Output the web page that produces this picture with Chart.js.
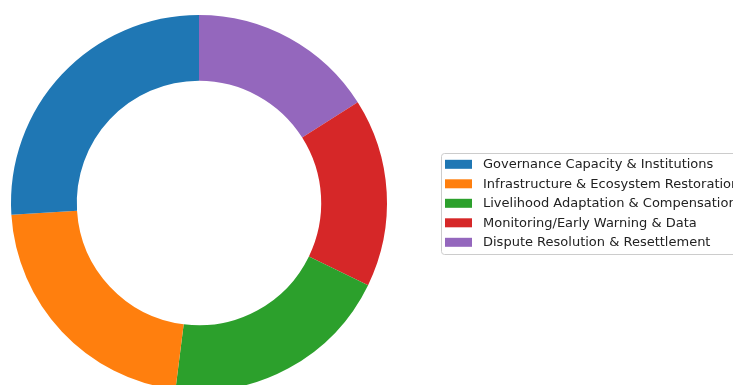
<!DOCTYPE html>
<html>
<head>
<meta charset="utf-8">
<script src="https://cdn.jsdelivr.net/npm/chart.js@4.4.1/dist/chart.umd.min.js"></script>
<style>
  html, body { margin: 0; padding: 0; background: #ffffff; overflow: hidden; width: 733px; height: 385px; }
  #wrap { position: absolute; left: 0; top: 0; }
</style>
</head>
<body>
<div id="wrap"><canvas id="c" width="733" height="406"></canvas></div>
<script>
// Funding priorities (share of total, %)
const categories = [
  "Governance Capacity & Institutions",
  "Infrastructure & Ecosystem Restoration",
  "Livelihood Adaptation & Compensation",
  "Monitoring/Early Warning & Data",
  "Dispute Resolution & Resettlement"
];
const shares = [26.0, 22.0, 19.8, 16.2, 16.0];
const colors = ["#1f77b4", "#ff7f0e", "#2ca02c", "#d62728", "#9467bd"];

// Chart.js sweeps clockwise from 12 o'clock; feeding the slices in reverse
// order lays them out counter-clockwise starting with the first category.
const arcLabels = categories.slice().reverse();
const arcValues = shares.slice().reverse();
const arcColors = colors.slice().reverse();

// Boxed legend listing the categories in their natural order.
const boxedLegend = {
  id: "boxedLegend",
  afterDraw(chart, args, opts) {
    const ctx = chart.ctx;
    ctx.save();
    // frame
    const fx = opts.x, fy = opts.y, fw = opts.width, fh = opts.height, r = 3;
    ctx.beginPath();
    ctx.moveTo(fx + r, fy);
    ctx.lineTo(fx + fw - r, fy);
    ctx.arcTo(fx + fw, fy, fx + fw, fy + r, r);
    ctx.lineTo(fx + fw, fy + fh - r);
    ctx.arcTo(fx + fw, fy + fh, fx + fw - r, fy + fh, r);
    ctx.lineTo(fx + r, fy + fh);
    ctx.arcTo(fx, fy + fh, fx, fy + fh - r, r);
    ctx.lineTo(fx, fy + r);
    ctx.arcTo(fx, fy, fx + r, fy, r);
    ctx.closePath();
    ctx.fillStyle = "rgba(255,255,255,0.8)";
    ctx.fill();
    ctx.strokeStyle = "#cccccc";
    ctx.lineWidth = 1;
    ctx.stroke();
    // entries
    ctx.font = opts.fontSize + "px 'DejaVu Sans', sans-serif";
    ctx.textBaseline = "middle";
    categories.forEach((name, i) => {
      const cy = opts.firstRowY + i * opts.rowPitch;
      ctx.fillStyle = colors[i];
      ctx.fillRect(opts.patchX, cy - opts.patchH / 2, opts.patchW, opts.patchH);
      ctx.fillStyle = "#222222";
      ctx.fillText(name, opts.textX, cy + 0.5);
    });
    ctx.restore();
  }
};

new Chart(document.getElementById("c"), {
  type: "doughnut",
  data: {
    labels: arcLabels,
    datasets: [{
      data: arcValues,
      backgroundColor: arcColors,
      borderWidth: 0,
      hoverOffset: 0
    }]
  },
  options: {
    responsive: false,
    animation: false,
    radius: 188,
    cutout: "65%",
    layout: { padding: { left: 0, top: 0, right: 335, bottom: 0 } },
    plugins: {
      legend: { display: false },
      tooltip: { enabled: false },
      boxedLegend: {
        x: 441.5, y: 153.5, width: 320, height: 101,
        patchX: 445, patchW: 27, patchH: 9,
        textX: 483, firstRowY: 164.3, rowPitch: 19.5,
        fontSize: 13
      }
    }
  },
  plugins: [boxedLegend]
});
</script>
</body>
</html>
